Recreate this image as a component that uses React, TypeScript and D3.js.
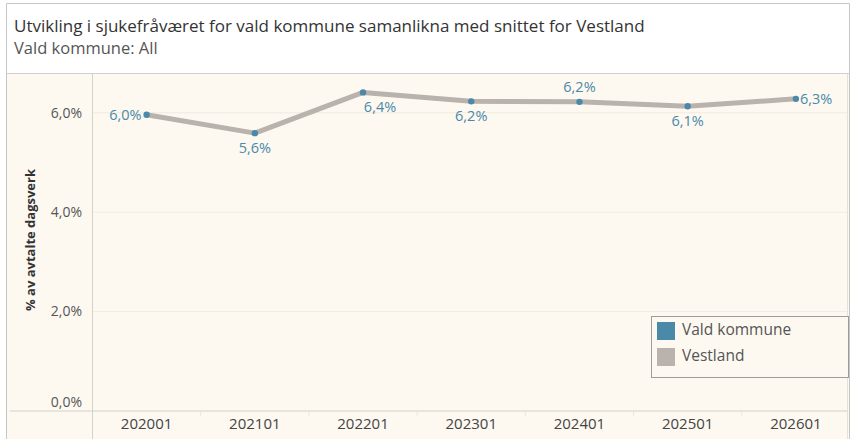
import React from "react";
import * as d3 from "d3";

// periods on the x axis
const periods = ["202001", "202101", "202201", "202301", "202401", "202501", "202601"];
// sickness absence in % of agreed work days
const valdKommune = [5.96, 5.59, 6.41, 6.23, 6.22, 6.13, 6.28];
const vestland = [5.96, 5.59, 6.41, 6.23, 6.22, 6.13, 6.28];
const yTicks = [0, 2, 4, 6];
// where tableau put each mark label
const labelPlacement = ["left", "below", "belowRight", "below", "above", "below", "right"];
const legendItems = ["Vald kommune", "Vestland"];

const W = 851;
const H = 439;
const FONT = "'Open Sans', 'Noto Sans', sans-serif";
const BLUE = "#4a89a8";
const GREY = "#bab2ac";
const BG = "#fdf9f1";

const locale = d3.formatLocale({ decimal: ",", thousands: " ", grouping: [3], currency: ["", " kr"] });
const pct = (v: number) => locale.format(".1f")(v) + "%";

export default function App() {
  const plotLeft = 92.5;
  const plotRight = 850;
  const plotTop = 74;
  const axisY = 411;

  const x = d3.scalePoint<string>().domain(periods).range([plotLeft, plotRight]).padding(0.5);
  const y = d3.scaleLinear().domain([0, 6.78]).range([axisY, plotTop]);
  const step = x.step();

  const line = d3
    .line<number>()
    .x((_, i) => x(periods[i]) as number)
    .y((d) => y(d));

  const labelPos = (p: string, px: number, py: number) => {
    switch (p) {
      case "left":
        return { x: px - 5, y: py + 1, anchor: "end" };
      case "right":
        return { x: px + 4, y: py + 1, anchor: "start" };
      case "above":
        return { x: px, y: py - 14, anchor: "middle" };
      case "belowRight":
        return { x: px + 17, y: py + 16, anchor: "middle" };
      default:
        return { x: px, y: py + 16, anchor: "middle" };
    }
  };

  return (
    <svg
      width={W}
      height={H}
      style={{ position: "absolute", left: 0, top: 0, display: "block", fontFamily: FONT }}
    >
      <rect x={0} y={0} width={W} height={H} fill="#fff" />
      {/* chart background */}
      <rect x={6.5} y={plotTop} width={plotRight - 6.5} height={H - plotTop} fill={BG} />

      {/* outer frame */}
      <path d={`M6.5,${H} V3.5 H849.5 V${H}`} fill="none" stroke="#c6c6c6" />
      <line x1={6.5} x2={849.5} y1={73.5} y2={73.5} stroke="#d0d0d0" />

      <text x={14} y={27} fontSize={17} fill="#333" dominantBaseline="middle">
        Utvikling i sjukefråværet for vald kommune samanlikna med snittet for Vestland
      </text>
      <text x={14} y={50} fontSize={16.5} fill="#555" dominantBaseline="middle">
        Vald kommune: All
      </text>

      {/* grid lines */}
      {yTicks
        .filter((t) => t > 0)
        .map((t) => (
          <line key={t} x1={plotLeft} x2={plotRight - 2} y1={y(t)} y2={y(t)} stroke="#f1ebe1" />
        ))}

      {/* y tick labels */}
      {yTicks.map((t) => (
        <text
          key={t}
          x={82}
          y={t === 0 ? y(t) - 8 : y(t) + 1}
          textAnchor="end"
          dominantBaseline="middle"
          fontSize={14}
          fill="#555"
        >
          {pct(t)}
        </text>
      ))}

      <text
        transform={`translate(32,${240}) rotate(-90)`}
        textAnchor="middle"
        dominantBaseline="middle"
        fontSize={13}
        fontWeight="bold"
        fill="#333"
      >
        % av avtalte dagsverk
      </text>

      {/* axes frame */}
      <line x1={10} x2={plotRight - 2} y1={axisY} y2={axisY} stroke="#d4d0ca" />
      <line x1={plotLeft} x2={plotLeft} y1={plotTop} y2={H} stroke="#d4d0ca" />
      <line x1={847.5} x2={847.5} y1={plotTop} y2={H} stroke="#e6e1d8" />

      {/* x tick separators + labels */}
      {periods.map((p, i) => {
        const cx = x(p) as number;
        return (
          <g key={p}>
            {i > 0 && (
              <line x1={cx - step / 2} x2={cx - step / 2} y1={axisY} y2={axisY + 5} stroke="#ebe6dd" />
            )}
            <text x={cx} y={425} textAnchor="middle" dominantBaseline="middle" fontSize={15} fill="#444">
              {p}
            </text>
          </g>
        );
      })}

      {/* series */}
      <path d={line(valdKommune) ?? ""} fill="none" stroke={BLUE} strokeWidth={2} />
      <path d={line(vestland) ?? ""} fill="none" stroke={GREY} strokeWidth={5} strokeLinejoin="round" />
      {valdKommune.map((v, i) => (
        <circle key={i} cx={x(periods[i]) as number} cy={y(v)} r={3.2} fill={BLUE} />
      ))}
      {valdKommune.map((v, i) => {
        const lp = labelPos(labelPlacement[i], x(periods[i]) as number, y(v));
        return (
          <text
            key={i}
            x={lp.x}
            y={lp.y}
            textAnchor={lp.anchor as any}
            dominantBaseline="middle"
            fontSize={14.5}
            fill={BLUE}
          >
            {pct(v)}
          </text>
        );
      })}

      {/* legend */}
      <rect x={651.5} y={316.5} width={197} height={61} fill={BG} stroke="#9c9c9c" />
      {legendItems.map((name, i) => (
        <g key={name}>
          <rect x={657} y={322 + i * 26} width={18} height={18} fill={i === 0 ? BLUE : GREY} />
          <text x={682} y={331 + i * 26} dominantBaseline="middle" fontSize={15.5} fill="#555">
            {name}
          </text>
        </g>
      ))}
    </svg>
  );
}
